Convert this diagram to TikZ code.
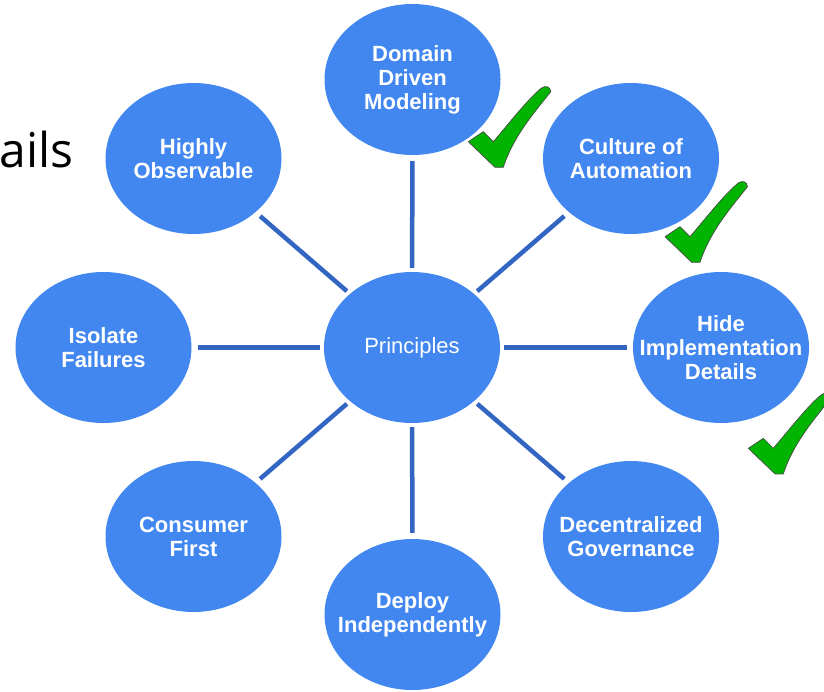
\documentclass[tikz,border=0pt]{standalone}
\usepackage{fontspec}
\setmainfont{Liberation Sans}
\newfontfamily\opensans{Open Sans}
\usetikzlibrary{shapes.geometric}
\definecolor{ellblue}{HTML}{4287F0}
\definecolor{linkblue}{HTML}{3366C2}
\definecolor{checkgreen}{HTML}{00B400}
\definecolor{checkedge}{HTML}{4A4A4A}
\tikzset{
 princ/.style={ellipse, fill=ellblue, minimum width=176pt, minimum height=151pt, inner sep=0pt},
 lbl/.style={text=white, font=\fontsize{22}{24}\selectfont\bfseries, align=center, inner sep=0pt},
 lblreg/.style={text=white, font=\fontsize{22}{24}\selectfont, align=center, inner sep=0pt},
 link/.style={draw=linkblue, line width=4.5pt, shorten <=4pt, shorten >=6pt},
 checkmark/.style={fill=checkgreen, draw=checkedge, line width=0.7pt, line join=round},
 tick/.pic={\path[checkmark] (0,0) -- (15,-10) -- (25,0) .. controls (42,-20) and (60,-43) .. (73,-53.5) .. controls (77,-56.5) and (82,-55.5) .. (82.5,-50) .. controls (65,-28) and (45,-5) .. (35,25.6) -- (26.7,25.6) -- cycle;}
}
\begin{document}
\begin{tikzpicture}[x=1pt,y=-1pt]
\clip (0,0) rectangle (824,691);
\node[font=\opensans\fontsize{48}{56}\selectfont, anchor=base east, inner sep=0pt] (ails) at (74,167) {ails};
\node[princ, label={[lblreg]center:{Principles}}] (p) at (412,347.5) {};
\node[princ, label={[lbl]center:{Domain\\Driven\\Modeling}}] (ddm) at (412.5,79.5) {};
\node[princ, label={[lbl]center:{Highly\\Observable}}] (ho) at (193.5,158.5) {};
\node[princ, label={[lbl]center:{Culture of\\Automation}}] (ca) at (631,158.5) {};
\node[princ, label={[lbl]center:{Isolate\\Failures}}] (if) at (103.5,347.5) {};
\node[princ, label={[lbl]center:{Hide\\Implementation\\Details}}] (hid) at (721,347.5) {};
\node[princ, label={[lbl]center:{Consumer\\First}}] (cf) at (193.5,536.5) {};
\node[princ, label={[lbl]center:{Decentralized\\Governance}}] (dg) at (631,536.5) {};
\node[princ, label={[lbl]center:{Deploy\\Independently}}] (di) at (412.5,614.5) {};
\foreach \t in {ddm,ho,ca,if,hid,cf,dg,di}{
  \draw[link] (p) -- (\t);
}
\pic at (468.3,141.7) {tick};
\pic at (665,236.7) {tick};
\pic at (748.3,448.3) {tick};
\end{tikzpicture}
\end{document}
